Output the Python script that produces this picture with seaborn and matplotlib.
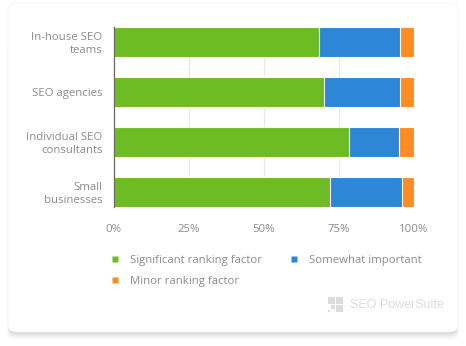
import matplotlib
matplotlib.use("Agg")
import matplotlib.pyplot as plt
from matplotlib.patches import FancyBboxPatch, Rectangle
from matplotlib.lines import Line2D
import seaborn as sns
import pandas as pd
import numpy as np

# Survey data: share of respondents (%) per group
groups = ["In-house SEO\nteams", "SEO agencies", "Individual SEO\nconsultants", "Small\nbusinesses"]
significant = [68.3, 70.0, 78.5, 72.0]
somewhat = [27.1, 25.5, 16.5, 24.2]
minor = [4.6, 4.5, 5.0, 3.8]
series_names = ["Significant ranking factor", "Somewhat important", "Minor ranking factor"]
tick_values = [0, 25, 50, 75, 100]
tick_labels = ["0%", "25%", "50%", "75%", "100%"]

colors = ["#6ebc23", "#2e86d6", "#ff8b22"]
text_gray = "#8c8c8c"

sns.set_theme(style="white")
plt.rcParams["font.family"] = ["Open Sans", "DejaVu Sans"]

W, H = 466, 346
fig = plt.figure(figsize=(W / 100, H / 100), dpi=100)
fig.patch.set_facecolor("white")

# card with a soft shadow falling mostly below it
for i, a in enumerate([0.03, 0.028, 0.025, 0.022, 0.018, 0.014, 0.01, 0.007]):
    off = 1.0 + i * 1.1
    sh = FancyBboxPatch(((9 - i * 0.3) / W, (H - 332 - off) / H), (448 + i * 0.6) / W, 300 / H,
                        boxstyle="round,pad=0,rounding_size=0.02", transform=fig.transFigure,
                        facecolor="black", edgecolor="none", alpha=a, zorder=0)
    fig.patches.append(sh)
card = FancyBboxPatch((8 / W, (H - 332) / H), 450 / W, 329 / H,
                      boxstyle="round,pad=0,rounding_size=0.02", transform=fig.transFigure,
                      facecolor="white", edgecolor="#f4f4f4", linewidth=0.6, zorder=1)
fig.patches.append(card)

ax = fig.add_axes([113.7 / W, (H - 207) / H, 300 / W, 180 / H])
ax.set_facecolor("none")
ax.set_zorder(2)

df = pd.DataFrame({
    "group": groups,
    "s1": significant,
    "s2": np.array(significant) + np.array(somewhat),
    "s3": np.array(significant) + np.array(somewhat) + np.array(minor),
})

# stacked bars drawn back to front from cumulative totals
for col, c in zip(["s3", "s2", "s1"], colors[::-1]):
    sns.barplot(data=df, x=col, y="group", orient="h", color=c, saturation=1,
                width=0.6, edgecolor="white", linewidth=0.8, ax=ax, zorder=3)

ax.set_xlim(0, 100)
ax.set_ylim(3.3, -0.3)
ax.set_xticks(tick_values)
ax.set_xticklabels(tick_labels)
ax.set_xlabel("")
ax.set_ylabel("")
for x in tick_values[1:]:
    ax.axvline(x, color="#e8e8e8", linewidth=0.8, zorder=1)
for s in ["top", "right", "bottom"]:
    ax.spines[s].set_visible(False)
ax.spines["left"].set_color("#666666")
ax.spines["left"].set_linewidth(0.9)
ax.spines["left"].set_zorder(5)
ax.tick_params(axis="both", length=0, colors=text_gray, labelsize=8.2)
ax.tick_params(axis="x", pad=12)
ax.tick_params(axis="y", pad=8)
for t in ax.get_yticklabels():
    t.set_linespacing(1.15)

handles = [Line2D([0], [0], marker="s", linestyle="none", markersize=4.5,
                  markerfacecolor=c, markeredgecolor="none") for c in colors]
order = [0, 2, 1]
leg = fig.legend([handles[i] for i in order], [series_names[i] for i in order],
                 ncol=2, loc="upper left", bbox_to_anchor=(112 / W, 1 - 255 / H),
                 frameon=False, fontsize=8.2, handlelength=0.6, handletextpad=1.0,
                 columnspacing=2.5, labelspacing=0.85, borderaxespad=0, borderpad=0)
for t in leg.get_texts():
    t.set_color(text_gray)

# brand mark
logo_c = "#dcdcdc"
for (x0, y0, w, h) in [(328, 297, 7, 7), (336, 297, 7, 7), (336, 305, 7, 7), (331, 305, 4, 4), (328, 310, 2, 2)]:
    fig.patches.append(Rectangle((x0 / W, 1 - (y0 + h) / H), w / W, h / H,
                                 transform=fig.transFigure, facecolor=logo_c,
                                 edgecolor="none", zorder=3))
fig.text(350 / W, 1 - 304.5 / H, "SEO PowerSuite", fontsize=9, color=logo_c,
         va="center", ha="left", family=["Liberation Sans", "DejaVu Sans"])

fig.savefig("out.png", dpi=100)
